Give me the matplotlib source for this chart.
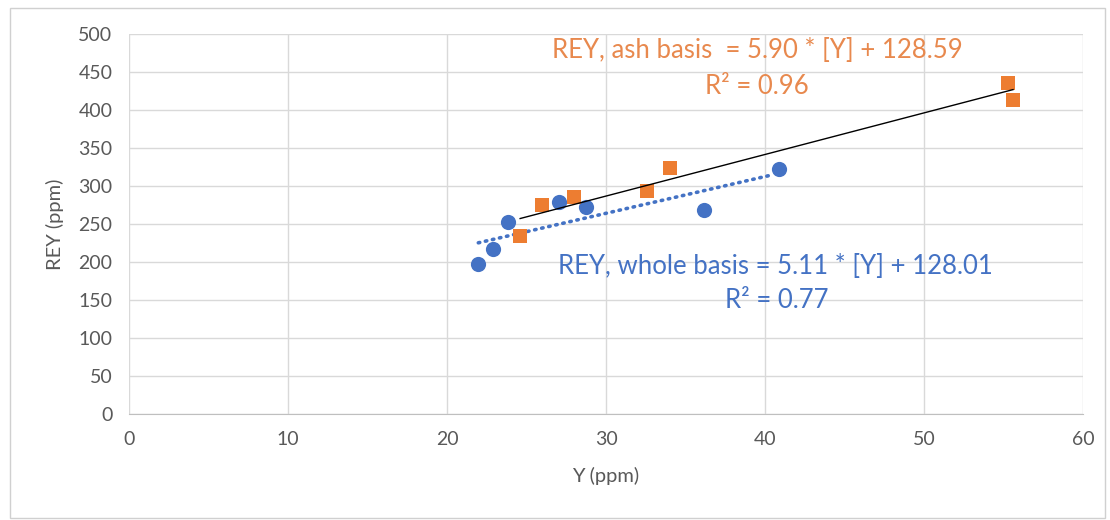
import numpy as np
import matplotlib
matplotlib.use('Agg')
import matplotlib.pyplot as plt
from matplotlib.patches import Rectangle

blue = '#4472C4'
orange = '#ED7D31'
grey_txt = '#595959'

# whole basis (blue circles)
y_whole = [21.97, 22.9, 23.86, 27.06, 28.74, 36.16, 40.9]
rey_whole = [197, 217, 252.6, 278.5, 272.8, 268, 322]

# ash basis (orange squares)
y_ash = [24.6, 26.0, 28.0, 32.56, 34.0, 55.3, 55.6]
rey_ash = [234, 274.6, 286, 293, 323.7, 435, 413]

ash_label = 'REY, ash basis  = 5.90 * [Y] + 128.59'
ash_r2 = 'R\u00b2 = 0.96'
whole_label = 'REY, whole basis = 5.11 * [Y] + 128.01'
whole_r2 = 'R\u00b2 = 0.77'

plt.rcParams['font.family'] = ['Lato', 'DejaVu Sans']

fig = plt.figure(figsize=(11.1, 5.2), dpi=100)
fig.patches.append(Rectangle((10/1110, 2/520), 1095/1110, 510/520, transform=fig.transFigure,
                             fill=False, edgecolor='#D0D0D0', linewidth=1))
ax = fig.add_axes([129/1110, 1 - 414/520, (1083 - 129)/1110, (414 - 34)/520])

ax.scatter(y_whole, rey_whole, s=120, color=blue, marker='o', zorder=3, linewidths=0)
ax.scatter(y_ash, rey_ash, s=105, color=orange, marker='s', zorder=3, linewidths=0)

# trend lines fitted to the points
xw = np.array(y_whole)
pw = np.polyfit(xw, rey_whole, 1)
xs = np.linspace(xw.min(), xw.max() - 0.6, 50)
ax.plot(xs, np.polyval(pw, xs), color=blue, linewidth=2.6, linestyle=(0, (0.4, 1.6)),
        dash_capstyle='round', zorder=2)

xa = np.array(y_ash)
pa = np.polyfit(xa, rey_ash, 1)
xs = np.linspace(xa.min(), xa.max(), 50)
ax.plot(xs, np.polyval(pa, xs), color='black', linewidth=1, zorder=4)

ax.set_xlim(0, 60)
ax.set_ylim(0, 500)
ax.set_xticks(np.arange(0, 61, 10))
ax.set_yticks(np.arange(0, 501, 50))
ax.grid(True, color='#D9D9D9', linewidth=1)
ax.set_axisbelow(True)
for s in ['top', 'right', 'left']:
    ax.spines[s].set_visible(False)
ax.spines['bottom'].set_color('#BFBFBF')
ax.tick_params(length=0, labelsize=14, colors=grey_txt, pad=12)
ax.set_xlabel('Y (ppm)', fontsize=14.5, color=grey_txt, labelpad=14)
ax.set_ylabel('REY (ppm)', fontsize=14.5, color=grey_txt, labelpad=10)

fig.text(757/1110, 1 - 51/520, ash_label, ha='center', va='center', fontsize=18.5, color='#E8894E')
fig.text(757/1110, 1 - 87/520, ash_r2, ha='center', va='center', fontsize=18.5, color='#E8894E')
fig.text(775/1110, 1 - 267/520, whole_label, ha='center', va='center', fontsize=18.5, color=blue)
fig.text(777/1110, 1 - 300/520, whole_r2, ha='center', va='center', fontsize=18.5, color=blue)

fig.savefig('out.png', dpi=100)
